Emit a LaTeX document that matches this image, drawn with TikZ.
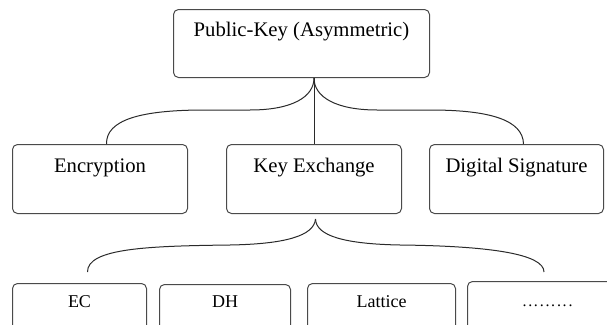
\documentclass[tikz,border=0pt]{standalone}
\usepackage{fontspec}
\setmainfont{Liberation Serif}
\usetikzlibrary{calc}
\definecolor{boxgray}{HTML}{4A4A4A}
\definecolor{linegray}{HTML}{2A2A2A}
\newcommand{\mydot}{.\hspace{1.75pt}}
\begin{document}
\begin{tikzpicture}[x=1pt,y=-1pt,
  box/.style={draw=boxgray, line width=1pt, rounded corners=5pt, inner sep=0pt,
              anchor=north west, align=center, text=black},
  bigtxt/.style={font=\fontsize{20.7}{24}\selectfont},
  smalltxt/.style={font=\fontsize{18}{21}\selectfont},
  midbox/.style={box, bigtxt, text height=28pt, text depth=41pt},
  lowbox/.style={box, smalltxt, text height=24pt, text depth=45pt},
  conn/.style={draw=linegray, line width=1pt}]
\useasboundingbox (0,0) rectangle (607,324);
\clip (0,0) rectangle (607,324);

% top
\node[box, bigtxt, minimum width=256pt, text height=27pt, text depth=41pt] (pk) at (173,9) {Public-Key (Asymmetric)};

% middle row
\node[midbox, minimum width=175pt] (enc) at (12,144) {Encryption};
\node[midbox, minimum width=175pt] (kx) at (226,144) {Key Exchange};
\node[midbox, minimum width=174pt] (ds) at (429,144) {Digital Signature};

% bottom row
\node[lowbox, minimum width=134pt] (ec) at (12,283) {EC};
\node[lowbox, minimum width=131pt, text height=23pt] (dh) at (159,284) {DH};
\node[lowbox, minimum width=148pt] (lat) at (307,283) {Lattice};
\node[lowbox, minimum width=160pt, text height=25pt, font=\fontsize{16}{19}\selectfont] (more) at (467,281) {\mydot\mydot\mydot\mydot\mydot\mydot\mydot\mydot.};

% upper connectors
\coordinate (ua) at (kx.north |- pk.south);
\coordinate (ul) at ($(enc.north)+(6.5,0)$);
\coordinate (ur) at ($(ds.north)+(7,0)$);
\draw[conn] (ua) -- (kx.north);
\draw[conn] (ua) .. controls (314,97) and (292,110) .. (250,110) -- (205,110)
  .. controls (140,110) and (106,120) .. (ul);
\draw[conn] (ua) .. controls (314,97) and (336,110) .. (377,110) -- (430,110)
  .. controls (490,110) and (523,120) .. (ur);

% lower brace
\coordinate (bt) at ($(kx.south)+(1.5,5)$);
\coordinate (bl) at ($(ec.north)+(8,-11)$);
\coordinate (br) at ($(more.north west)+(77,-9)$);
\draw[conn] (bt) .. controls (314,236) and (285,244) .. (230,245)
  .. controls (150,246) and (87,248) .. (bl);
\draw[conn] (bt) .. controls (316,236) and (345,244) .. (400,245)
  .. controls (490,246) and (544,254) .. (br);
\end{tikzpicture}
\end{document}
